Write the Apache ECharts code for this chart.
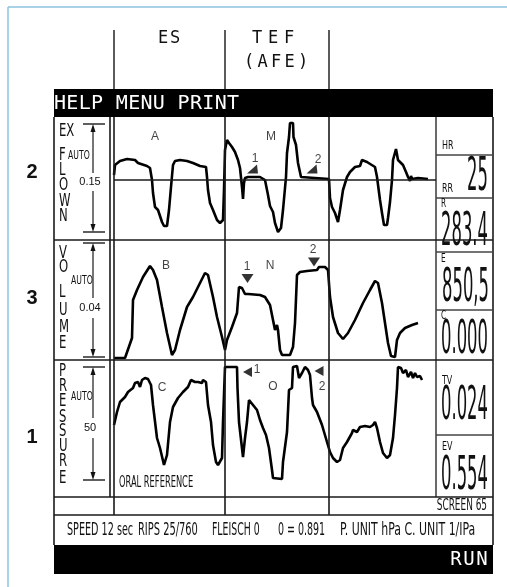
<!DOCTYPE html>
<html><head><meta charset="utf-8">
<script src="https://cdn.jsdelivr.net/npm/echarts@6/dist/echarts.min.js"></script>
<style>html,body{margin:0;padding:0;background:#fff}#c{width:507px;height:587px}</style>
</head><body><div id="c"></div>
<script>
// ---- waveform data: [time unit, amplitude unit] ----
const flowData = [[0,4.5],[1,14.5],[6,18.5],[13,20.5],[21,19.5],[24,16.5],[33,13.5],[36,11.5],[38,-0.5],[39,-13.5],[41,-27.5],[44,-30.5],[48,-42.5],[50,-46.5],[53,-46.5],[55,-30.5],[57,-7.5],[59,14.5],[61,18.5],[66,19.5],[73,18.5],[79,16.5],[86,13.5],[92,12.5],[93,2.5],[94,-10.5],[96,-23.5],[99,-30.5],[103,-40.5],[106,-43.5],[109,-40.5],[110,-10.5],[111,29.5],[113,39.5],[115,36.5],[118,32.5],[121,27.5],[124,19.5],[126,11.5],[128,-7.5],[129,-19.5],[130,-3.5],[131,1.5],[134,2.5],[146,2.5],[151,-0.5],[152,-1.5],[154,-15.5],[156,-26.5],[159,-32.5],[161,-43.5],[164,-52.5],[167,-48.5],[169,-30.5],[172,2.5],[173,26.5],[175,42.5],[176,56.5],[179,56.5],[179.5,42.5],[181,43.5],[182,34.5],[184,16.5],[187,2.5],[189,0.5],[215,0.5],[216,-18.5],[218,-27.5],[221,-33.5],[224,-42.5],[226,-30.5],[229,-10.5],[233,2.5],[236,7.5],[241,12.5],[246,13.5],[248,19.5],[249,20.5],[253,17.5],[254,16.5],[261,12.5],[263,2.5],[266,-20.5],[268,-33.5],[270,-45.5],[273,-45.5],[274,-38.5],[276,-22.5],[278,-0.5],[279,19.5],[281,21.5],[282,30.5],[283,30.5],[284,19.5],[286,17.5],[289,14.5],[292,7.5],[294,2.5],[296,-1.5],[297,3.5],[298,0.5],[304,1.5],[314,0.5]];
const volumeData = [[0,2],[11,2],[18,22],[19,60],[23,70],[29,83],[36,94],[39,90],[43,80],[48,53],[53,27],[58,5],[61,10],[66,30],[73,53],[79,63],[86,77],[91,87],[94,85],[99,63],[103,43],[108,23],[111,10],[113,20],[118,33],[123,47],[125,73],[128,72],[131,66],[134,66],[146,65],[151,63],[156,55],[159,40],[161,30],[163,35],[164,30],[166,10],[168,5],[176,5],[179,13],[181,37],[183,85],[186,88],[193,89],[203,90],[205,93],[211,93],[214,90],[216,63],[219,43],[224,27],[229,21],[234,27],[241,40],[249,57],[256,70],[261,79],[264,77],[268,57],[271,37],[274,17],[277,4],[279,2],[281,3],[283,20],[286,27],[291,32],[298,35],[304,37]];
const pressureData = [[0,72],[3,85],[6,95],[11,100],[14,105],[19,109],[21,114],[24,115],[26,110],[28,117],[31,119],[34,118],[37,112],[39,92],[43,59],[46,49],[50,32],[53,42],[56,75],[59,90],[64,99],[69,105],[74,110],[77,117],[79,119],[81,115],[84,115],[88,114],[89,117],[92,115],[94,92],[97,75],[99,52],[102,35],[104,32],[108,39],[109,75],[111,130],[123,130],[123.5,109],[125,75],[129,40],[131,59],[133,75],[135,97],[137,99],[139,92],[141,93],[143,87],[146,77],[149,69],[152,62],[155,49],[158,27],[159,19],[168,18],[169,35],[173,65],[175,107],[178,109],[179,130],[183,131],[185,119],[188,124],[191,130],[194,127],[196,122],[198,99],[199,92],[203,85],[208,72],[213,55],[216,45],[219,39],[223,35],[226,37],[229,49],[233,55],[238,64],[239,67],[243,65],[246,70],[248,68],[251,71],[253,69],[256,70],[259,72],[261,75],[263,69],[266,55],[269,44],[273,39],[276,42],[279,59],[281,82],[283,109],[284,130],[287,129],[289,124],[292,127],[294,120],[297,125],[299,119],[301,124],[303,120],[306,121],[308,117]];

// annotation letters / markers
const flowLabels = [['A',41,42.5],['M',157,42.5],['1',141,20.5],['2',204,19.5]];
const flowArrows = [[138.5,10.5],[198,10.5]];
const volumeLabels = [['B',52,94],['N',156,94],['1',133,93],['2',199,110]];
const volumeArrows = [[133.5,81.5],[200,98]];
const pressureLabels = [['C',48,109],['O',159,110],['1',143,127],['2',208,110]];
const pressureArrows = [[133.5,125],[205,126]];

// texts
const columnHeads = ['ES','TEF','(AFE)'];
const rowNumbers = ['2','3','1'];
const scaleLabels = ['0.15','0.04','50'];
const readoutLabels = ['HR','RR','R','E','C','TV','EV'];
const readoutValues = ['25','283.4','850,5','0.000','0.024','0.554'];
const statusItems = ['SPEED 12 sec','RIPS 25/760','FLEISCH 0','0 = 0.891','P. UNIT hPa C. UNIT 1/IPa'];

const NARROW = '"DejaVu Sans Condensed","Liberation Sans",sans-serif';
const MONO = '"DejaVu Sans Mono","Liberation Mono",monospace';
const SANS = '"Liberation Sans",Arial,sans-serif';

const g = [];
function line(x1,y1,x2,y2,w,c){ g.push({type:'line',silent:true,z:5,shape:{x1:x1,y1:y1,x2:x2,y2:y2},style:{stroke:c||'#1a1a1a',lineWidth:w||1.6}}); }
function rect(x,y,w,h,fill){ g.push({type:'rect',silent:true,z:1,shape:{x:x,y:y,width:w,height:h},style:{fill:fill}}); }
function poly(pts){ g.push({type:'polygon',silent:true,z:6,shape:{points:pts},style:{fill:'#111'}}); }
function txt(s,x,y,o){
  o=o||{};
  const a=o.a||'left';
  g.push({type:'text',silent:true,z:10,x:x,y:y,scaleX:o.sx||1,scaleY:o.sy||1,
    style:{text:s,fill:o.c||'#111',fontSize:o.size||12,fontFamily:o.f||NARROW,fontWeight:o.w||'normal',
      textAlign:a,textVerticalAlign:'middle',align:a,verticalAlign:'middle'}});
}
function spaced(s,x0,y,pitch,o){
  for(let i=0;i<s.length;i++){ if(s[i]!==' ') txt(s[i],x0+i*pitch,y,Object.assign({a:'center'},o)); }
}

// outer blue frame
line(8,7,507,7,1.5,'#8ec3de'); line(8,7,8,587,1.5,'#8ec3de');

// header
line(114,30,114,89,1.6,'#333'); line(225,30,225,89,1.6,'#333'); line(329,30,329,89,1.6,'#333');
spaced(columnHeads[0],163,39,12,{f:MONO,size:17});
spaced(columnHeads[1],257,39,16,{f:MONO,size:17});
spaced(columnHeads[2],249,63,13.5,{f:MONO,size:17});
rect(54,89,439,28,'#000');
spaced('HELP MENU PRINT',60,104,12.36,{f:MONO,size:20,c:'#fff'});

// main frame
line(54,117,54,545); line(493,117,493,545);
line(110,117,110,497); line(114,117,114,515);
line(225,117,225,515); line(329,117,329,515);
line(436,117,436,497,1.6,'#444');
line(54,240,493,240); line(54,360,493,360); line(54,497,493,497); line(54,515,493,515);
[155,198,252,310,435].forEach(y=>line(436,y,493,y,1.6,'#444'));
rect(54,545,439,29,'#000');
spaced('RUN',456,560,13,{f:MONO,size:19,c:'#fff'});

// row numbers
txt(rowNumbers[0],32,172,{a:'center',f:SANS,w:'bold',size:20});
txt(rowNumbers[1],32,298,{a:'center',f:SANS,w:'bold',size:20});
txt(rowNumbers[2],32,437,{a:'center',f:SANS,w:'bold',size:20});

// vertical axis titles
const L={size:18,sx:0.72};
txt('EX',59,131,L);
[['F',155],['L',170],['O',185],['W',201],['N',216]].forEach(d=>txt(d[0],59,d[1],L));
[['V',253],['O',267],['L',292],['U',310],['M',327],['E',343]].forEach(d=>txt(d[0],59,d[1],L));
[['P',371],['R',386],['E',401],['S',417],['S',431],['U',446],['R',461],['E',478]].forEach(d=>txt(d[0],59,d[1],L));
txt('AUTO',68,156,{size:13,sx:0.66});
txt('AUTO',71,281,{size:13,sx:0.66});
txt('AUTO',71,397,{size:13,sx:0.66});

// scale bars
function scaleBar(top,bot,gapTop,gapBot,label,ly){
  line(83,top,105,top,1.4); line(83,bot,105,bot,1.4);
  line(93,top+6,93,gapTop,1.2); line(93,gapBot,93,bot-6,1.2);
  poly([[93,top],[90.5,top+8],[95.5,top+8]]);
  poly([[93,bot],[90.5,bot-8],[95.5,bot-8]]);
  txt(label,90,ly,{a:'center',f:SANS,size:11});
}
scaleBar(124,232,173,191,scaleLabels[0],182);
scaleBar(243,357,298,318,scaleLabels[1],308);
scaleBar(367,480,418,438,scaleLabels[2],428);

// readouts
const S={size:13,sx:0.68};
txt(readoutLabels[0],442,146,S);
txt(readoutLabels[1],442,189,S);
txt(readoutLabels[2],441,204,{size:12,sx:0.68});
txt(readoutLabels[3],441,259,{size:12,sx:0.68});
txt(readoutLabels[4],441,316,{size:12,sx:0.68});
txt(readoutLabels[5],442,381,S);
txt(readoutLabels[6],442,447,S);
const B={size:24,sx:0.76,sy:1.9,a:'right'};
txt(readoutValues[0],488,178,B);
txt(readoutValues[1],488,233,B);
txt(readoutValues[2],489,289,B);
txt(readoutValues[3],488,341,B);
txt(readoutValues[4],488,407,B);
txt(readoutValues[5],488,477,B);

txt('ORAL REFERENCE',119,483,{size:15,sx:0.615});
txt('SCREEN 65',487,506,{size:16,sx:0.62,a:'right'});
const statusX=[67,138,212,278,340];
const statusSx=[0.63,0.646,0.61,0.62,0.716];
statusItems.forEach((s,i)=>txt(s,statusX[i],531,{size:17,sx:statusSx[i]}));

// ---- chart ----
const grids=[{left:114,top:117,width:322,height:123},{left:114,top:240,width:322,height:120},{left:114,top:360,width:322,height:137}];
const yRanges=[[-60.5,62.5],[0,120],[0,137]];
const traceStyle={color:'#000',width:2.6};
function labelSeries(idx,arr){
  return {type:'scatter',xAxisIndex:idx,yAxisIndex:idx,silent:true,symbol:'circle',symbolSize:1,itemStyle:{color:'rgba(0,0,0,0)'},
    data:arr.map(d=>({name:d[0],value:[d[1],d[2]]})),
    label:{show:true,position:'inside',formatter:'{b}',color:'#111',fontSize:12,fontFamily:SANS},z:8};
}
function arrowSeries(idx,arr,symbol,size,rot){
  return {type:'scatter',xAxisIndex:idx,yAxisIndex:idx,silent:true,symbol:symbol,symbolSize:size,symbolRotate:rot,
    itemStyle:{color:'#000'},data:arr,z:8};
}
const option={
  animation:false,
  backgroundColor:'#fff',
  grid:grids,
  xAxis:grids.map((_,i)=>({type:'value',gridIndex:i,min:0,max:322,show:false})),
  yAxis:yRanges.map((r,i)=>({type:'value',gridIndex:i,min:r[0],max:r[1],show:false})),
  graphic:{elements:g},
  series:[
    {type:'line',xAxisIndex:0,yAxisIndex:0,data:flowData,symbol:'none',lineStyle:traceStyle,z:4,
      markLine:{silent:true,symbol:['none','none'],label:{show:false},lineStyle:{color:'#1a1a1a',width:1.6,type:'solid'},data:[{yAxis:0}]}},
    {type:'line',xAxisIndex:1,yAxisIndex:1,data:volumeData,symbol:'none',lineStyle:traceStyle,z:4},
    {type:'line',xAxisIndex:2,yAxisIndex:2,data:pressureData,symbol:'none',lineStyle:traceStyle,z:4},
    labelSeries(0,flowLabels),labelSeries(1,volumeLabels),labelSeries(2,pressureLabels),
    arrowSeries(0,flowArrows,'path://M0,10 L10,0 L11,10 Z',[11,9],0),
    arrowSeries(1,volumeArrows,'triangle',[12,9],180),
    arrowSeries(2,pressureArrows,'triangle',[10,9],90)
  ]
};
const chart=echarts.init(document.getElementById('c'),null,{renderer:'canvas'});
chart.setOption(option);
</script>
</body></html>
